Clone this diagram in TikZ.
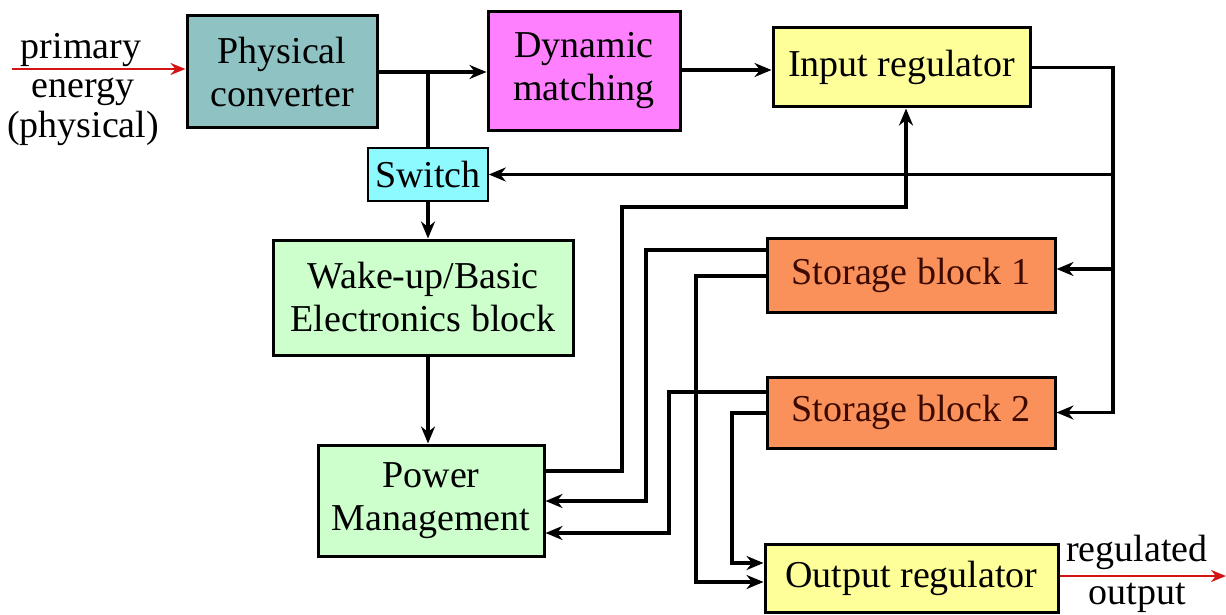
\documentclass[tikz,border=0pt]{standalone}
\usepackage{fontspec}
\setmainfont{Liberation Serif}
\usetikzlibrary{arrows.meta,calc}
\definecolor{pcfill}{RGB}{143,194,194}
\definecolor{dmfill}{RGB}{255,128,255}
\definecolor{yfill}{RGB}{255,255,153}
\definecolor{swfill}{RGB}{140,250,255}
\definecolor{gfill}{RGB}{204,255,204}
\definecolor{sfill}{RGB}{250,145,90}
\definecolor{stxt}{RGB}{60,10,0}
\definecolor{redline}{RGB}{210,20,20}
\tikzset{
  blk/.style={draw=black, line width=3pt, inner sep=0pt, align=center,
    font=\fontsize{38}{43}\selectfont},
  lbl/.style={inner sep=0pt, anchor=base, font=\fontsize{38}{43}\selectfont},
  conn/.style={line width=3.2pt, black},
  arr/.style={conn, -{Stealth[length=17pt,width=14pt]}},
  redarr/.style={line width=2.4pt, redline, -{Stealth[length=15pt,width=12pt]}}
}
\begin{document}
\begin{tikzpicture}[x=1pt,y=-1pt]
\path[use as bounding box, fill=white] (0,0) rectangle (1226,615);

% blocks
\node[blk, fill=pcfill, minimum width=190pt, minimum height=112pt] (pc) at (282,72) {Physical\\converter};
\node[blk, fill=dmfill, minimum width=192pt, minimum height=119pt] (dm) at (584,71) {Dynamic\\matching};
\node[blk, fill=yfill, minimum width=257pt, minimum height=79pt] (ir) at (901.5,67.5) {Input regulator};
\node[blk, fill=swfill, line width=1.6pt, minimum width=120pt, minimum height=53pt] (sw) at (428,174.5) {Switch};
\node[blk, fill=gfill, minimum width=300pt, minimum height=115pt] (wu) at (423,297.5) {Wake-up/Basic\\Electronics block};
\node[blk, fill=gfill, minimum width=226pt, minimum height=111pt] (pm) at (431,500.5) {Power\\Management};
\node[blk, fill=sfill, text=stxt, minimum width=288pt, minimum height=74pt] (s1) at (911,275) {Storage block 1};
\node[blk, fill=sfill, text=stxt, minimum width=288pt, minimum height=71pt] (s2) at (911,412.5) {Storage block 2};
\node[blk, fill=yfill, minimum width=293pt, minimum height=68pt] (or) at (911.5,578.5) {Output regulator};

% labels
\node[lbl] (tprim) at (81,59) {primary};
\node[lbl] (tener) at (83,98) {energy};
\node[lbl] (tphys) at (83,138) {(physical)};
\node[lbl] (treg) at (1137,561) {regulated};
\node[lbl] (tout) at (1137,604) {output};

% coordinates
\coordinate (inA) at (12,69);
\coordinate (outB) at (1226,576);
\coordinate (rb) at (1113,0);
\coordinate (pmA) at (622,0);
\coordinate (pmB) at (906,207);

% connectors
\draw[redarr] (inA) -- (inA -| pc.west);
\draw[redarr] (or.east |- outB) -- (outB);
\draw[arr] (pc.east) -- (pc.east -| dm.west);
\draw[conn] (pc.east -| sw.north) -- (sw.north);
\draw[arr] (sw.south) -- (sw.south |- wu.north);
\draw[arr] ([xshift=5pt]wu.south) -- ([xshift=5pt]wu.south |- pm.north);
\draw[arr] (dm.east |- 0,70) -- (ir.west |- 0,70);

% right bus
\draw[arr] (ir.east) -- (ir.east -| rb) |- (s2.east);
\draw[arr] (rb |- sw.east) -- (sw.east);
\draw[arr] (rb |- 0,269) -- (s1.east |- 0,269);

% power management to input regulator
\draw[arr] (pm.east |- 0,471) -- (pmA |- 0,471) |- (pmB) -- (pmB |- ir.south);

% storage 1
\draw[arr] (s1.west |- 0,250) -- (646,250) |- (pm.east |- 0,501);
\draw[arr] (s1.west |- 0,276) -- (696,276) |- (or.west |- 0,582);
% storage 2
\draw[arr] (s2.west |- 0,392) -- (669,392) |- (pm.east |- 0,533);
\draw[arr] (s2.west |- 0,413) -- (732,413) |- (or.west |- 0,563);
\end{tikzpicture}
\end{document}
